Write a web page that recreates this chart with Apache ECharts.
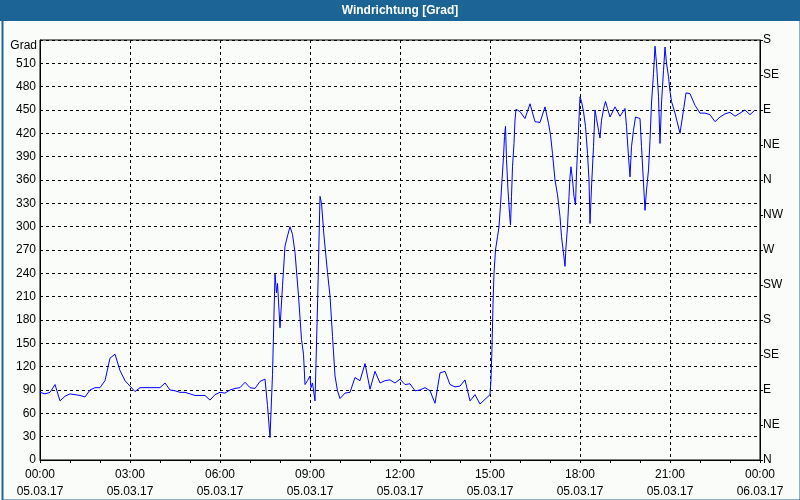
<!DOCTYPE html>
<html>
<head>
<meta charset="utf-8">
<script src="https://cdn.jsdelivr.net/npm/echarts@6/dist/echarts.min.js"></script>
<style>
html,body{margin:0;padding:0;background:#fafcfa;}
#c{width:800px;height:500px;}
</style>
</head>
<body>
<div id="c"></div>
<script>
// time of each sample in minutes since 05.03.17 00:00
var minutes = [0,10,20,30,40,50,60,70,80,90,100,110,120,130,140,150,160,170,180,190,200,210,220,230,240,250,260,270,280,290,300,310,320,330,340,350,360,370,380,390,400,410,420,430,440,450,455,460,465,470,473,475,480,485,490,495,500,505,510,517,523,527,530,535,540,542,545,550,555,560,563,568,575,580,585,590,595,600,610,620,630,640,650,660,670,680,690,700,710,720,730,740,750,760,770,780,790,800,810,820,830,840,850,860,870,880,890,900,902,904,906,908,911,915,918,921,924,927,929,931,933,936,939,941,943,945,948,950,952,960,970,980,990,1000,1010,1017,1021,1025,1030,1035,1040,1043,1047,1050,1052,1055,1058,1060,1062,1065,1068,1071,1073,1077,1080,1083,1087,1091,1095,1098,1100,1103,1107,1110,1113,1117,1120,1123,1128,1131,1135,1140,1150,1160,1170,1173,1177,1180,1183,1187,1191,1200,1203,1207,1210,1213,1217,1220,1223,1227,1230,1233,1237,1240,1243,1247,1250,1253,1257,1260,1263,1270,1280,1287,1292,1300,1310,1320,1330,1340,1350,1360,1370,1380,1390,1400,1410,1420,1430];
// wind direction in degrees
var direction = [87,85,87,97,76,82,85,84,83,81,90,93,93,102,131,136,115,102,95,88,93,93,93,93,93,99,90,89,87,87,85,83,83,83,77,84,87,86,90,92,93,100,93,92,101,104,70,29,110,239,215,227,170,224,275,288,300,290,267,211,155,136,97,102,108,93,99,76,198,339,330,288,241,211,159,108,89,79,86,87,106,102,124,91,114,99,102,103,99,104,97,98,89,90,93,89,73,112,114,97,94,95,103,76,84,72,78,84,104,145,200,240,270,287,300,328,360,390,416,429,386,347,317,302,339,377,407,437,451,448,439,458,435,434,454,433,418,394,360,341,313,287,266,249,274,300,339,364,377,360,339,328,369,424,467,461,448,429,394,360,304,351,403,450,439,424,414,437,454,461,452,441,454,442,452,429,390,364,403,424,441,439,403,356,321,347,373,411,459,497,532,510,467,407,459,501,531,510,493,474,461,446,420,450,472,471,456,446,446,444,435,441,445,447,442,446,450,444,450];

var leftTicks = [0,30,60,90,120,150,180,210,240,270,300,330,360,390,420,450,480,510,540];
var compassLabels = ['N','NE','E','SE','S','SW','W','NW','N','NE','E','SE','S'];
var timeLabels = ['00:00','03:00','06:00','09:00','12:00','15:00','18:00','21:00','00:00'];
var dateLabels = ['05.03.17','05.03.17','05.03.17','05.03.17','05.03.17','05.03.17','05.03.17','05.03.17','06.03.17'];
var unitLabel = 'Grad';
var titleText = 'Windrichtung [Grad]';

var FONT = 'Liberation Sans';
var data = minutes.map(function(m,i){return [m, direction[i]];});

var chart = echarts.init(document.getElementById('c'), null, {renderer:'canvas'});
chart.setOption({
  animation:false,
  backgroundColor:'#fafcfa',
  textStyle:{fontFamily:FONT},
  grid:{left:40,right:40,top:40,bottom:40,show:true,borderColor:'#000',borderWidth:1,backgroundColor:'transparent'},
  graphic:[
    {type:'rect',left:0,top:0,shape:{width:800,height:21},style:{fill:'#1d6496'},silent:true},
    {type:'rect',left:0,top:0,shape:{x:0.5,y:0.5,width:798,height:498},style:{fill:null,stroke:'#1d6496',lineWidth:2},silent:true},
    {type:'text',x:400,y:11,style:{text:titleText,fill:'#fff',font:'bold 12px "Liberation Sans"',textAlign:'center',textVerticalAlign:'middle'},silent:true},
    {type:'text',x:37,y:46,style:{text:unitLabel,fill:'#000',font:'12px "Liberation Sans"',textAlign:'right',textVerticalAlign:'middle'},silent:true}
  ],
  xAxis:{
    type:'value',min:0,max:1440,interval:180,
    axisLine:{show:true,lineStyle:{color:'#000',width:1}},
    axisTick:{show:true,length:3,lineStyle:{color:'#000'}},
    minorTick:{show:true,splitNumber:3,length:3,lineStyle:{color:'#000'}},
    splitLine:{show:true,lineStyle:{color:'#000',type:[3,3],width:1}},
    axisLabel:{color:'#000',fontSize:12,fontFamily:FONT,lineHeight:17,margin:6,
      formatter:function(v){var k=Math.round(v/180);return timeLabels[k]+'\n'+dateLabels[k];}}
  },
  yAxis:[
    {type:'value',min:0,max:540,interval:30,position:'left',
     axisLine:{show:true,lineStyle:{color:'#000'}},
     axisTick:{show:false},
     splitLine:{show:true,lineStyle:{color:'#000',type:[3,3],width:1}},
     axisLabel:{color:'#000',fontSize:12,fontFamily:FONT,margin:4,
       formatter:function(v){return v===540?'':String(leftTicks[Math.round(v/30)]);}}},
    {type:'value',min:0,max:540,interval:45,position:'right',
     axisLine:{show:true,lineStyle:{color:'#000'}},
     axisTick:{show:true,inside:false,length:3,lineStyle:{color:'#000'}},
     splitLine:{show:false},
     axisLabel:{color:'#000',fontSize:12,fontFamily:FONT,margin:3,
       formatter:function(v){return compassLabels[Math.round(v/45)];}}}
  ],
  series:[{type:'line',yAxisIndex:0,data:data,showSymbol:false,symbol:'none',
    lineStyle:{color:'#0000ff',width:1},itemStyle:{color:'#0000ff'}}]
});
</script>
</body>
</html>
